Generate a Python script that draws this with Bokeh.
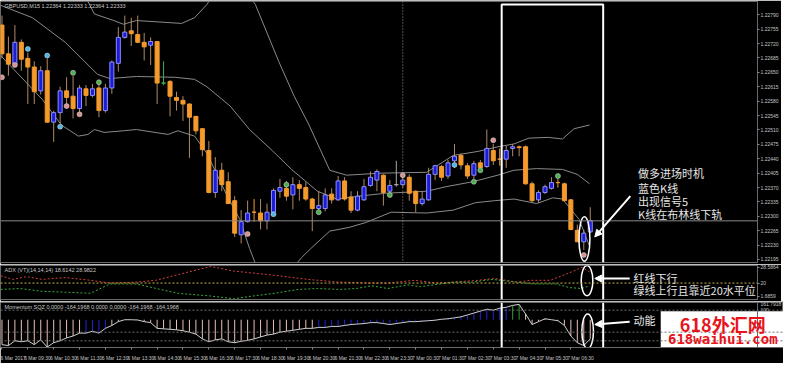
from bokeh.plotting import figure
from bokeh.models import (Range1d, LinearAxis, FixedTicker, Label, Arrow, NormalHead,
                          Span, PrintfTickFormatter)
from bokeh.layouts import column
from bokeh.embed import file_html
from bokeh.resources import INLINE

# ---------------- data (GBPUSD M15) ----------------
opens = [1.22765,1.22695,1.22670,1.22723,1.22684,1.22663,1.22605,1.22654,1.22529,1.22552,
         1.22605,1.22592,1.22562,1.22610,1.22594,1.22612,1.22557,1.22612,1.22672,1.22735,
         1.22751,1.22742,1.22723,1.22716,1.22725,1.22624,1.22628,1.22589,1.22582,1.22573,
         1.22543,1.22513,1.22460,1.22358,1.22412,1.22384,1.22338,1.22255,1.22287,1.22310,
         1.22308,1.22289,1.22310,1.22361,1.22368,1.22352,1.22377,1.22370,1.22342,1.22319,
         1.22319,1.22354,1.22340,1.22386,1.22347,1.22315,1.22340,1.22375,1.22388,1.22400,
         1.22361,1.22377,1.22377,1.22395,1.22361,1.22331,1.22340,1.22402,1.22421,1.22398,
         1.22435,1.22448,1.22423,1.22400,1.22430,1.22421,1.22460,1.22439,1.22439,1.22465,
         1.22469,1.22469,1.22379,1.22340,1.22358,1.22368,1.22382,1.22379,1.22340,1.22266,
         1.22238,1.22262]
highs = [1.22788,1.22737,1.22765,1.22730,1.22698,1.22677,1.22665,1.22684,1.22557,1.22615,
         1.22638,1.22642,1.22619,1.22619,1.22622,1.22622,1.22622,1.22679,1.22760,1.22788,
         1.22783,1.22788,1.22746,1.22735,1.22725,1.22677,1.22631,1.22603,1.22592,1.22575,
         1.22543,1.22515,1.22483,1.22444,1.22430,1.22407,1.22349,1.22315,1.22338,1.22342,
         1.22342,1.22331,1.22368,1.22391,1.22386,1.22395,1.22388,1.22384,1.22345,1.22361,
         1.22368,1.22368,1.22398,1.22395,1.22361,1.22361,1.22391,1.22409,1.22414,1.22402,
         1.22388,1.22435,1.22395,1.22402,1.22363,1.22361,1.22418,1.22425,1.22425,1.22437,
         1.22476,1.22453,1.22430,1.22435,1.22437,1.22511,1.22476,1.22465,1.22472,1.22476,
         1.22472,1.22472,1.22384,1.22363,1.22377,1.22395,1.22391,1.22382,1.22342,1.22280,
         1.22268,1.22322]
lows = [1.22684,1.22642,1.22668,1.22654,1.22573,1.22573,1.22596,1.22527,1.22481,1.22527,
        1.22562,1.22538,1.22550,1.22568,1.22589,1.22541,1.22552,1.22598,1.22652,1.22732,
        1.22714,1.22721,1.22679,1.22668,1.22573,1.22619,1.22543,1.22557,1.22532,1.22442,
        1.22499,1.22446,1.22356,1.22345,1.22361,1.22331,1.22250,1.22234,1.22285,1.22287,
        1.22268,1.22268,1.22308,1.22345,1.22338,1.22317,1.22338,1.22338,1.22264,1.22315,
        1.22312,1.22331,1.22338,1.22338,1.22308,1.22312,1.22338,1.22372,1.22361,1.22326,
        1.22345,1.22372,1.22370,1.22338,1.22310,1.22326,1.22338,1.22388,1.22386,1.22391,
        1.22418,1.22414,1.22391,1.22391,1.22416,1.22418,1.22425,1.22423,1.22418,1.22446,
        1.22446,1.22377,1.22333,1.22333,1.22354,1.22365,1.22370,1.22335,1.22266,1.22238,
        1.22218,1.22259]
closes = [1.22695,1.22670,1.22723,1.22682,1.22663,1.22603,1.22654,1.22529,1.22552,1.22605,
          1.22589,1.22562,1.22612,1.22594,1.22610,1.22557,1.22612,1.22675,1.22735,1.22748,
          1.22744,1.22723,1.22712,1.22725,1.22624,1.22624,1.22592,1.22582,1.22573,1.22541,
          1.22508,1.22462,1.22358,1.22412,1.22377,1.22331,1.22259,1.22287,1.22308,1.22310,
          1.22289,1.22310,1.22363,1.22370,1.22349,1.22377,1.22368,1.22342,1.22319,1.22326,
          1.22352,1.22340,1.22386,1.22342,1.22315,1.22349,1.22372,1.22395,1.22409,1.22358,
          1.22375,1.22377,1.22388,1.22356,1.22331,1.22342,1.22402,1.22423,1.22395,1.22430,
          1.22446,1.22425,1.22398,1.22428,1.22418,1.22465,1.22435,1.22439,1.22460,1.22469,
          1.22467,1.22379,1.22338,1.22358,1.22372,1.22382,1.22382,1.22338,1.22268,1.22238,
          1.22259,1.22289]
doji_colors = {25: "#3cb44b", 61: "#a8a8a8"}

# Bollinger bands (bar index, price)
upper_x = [11.8,14.3,17.3,18.8,20.8,27.8,29.8,31.7,33.5,37.3,39.2,42.8,45.2,47.5,50.7,
           53.3,58.7,65.7,69.8,73.7,76.7,79.2,81.5,84.5,86.7,88.5,90.9]
upper_p = [1.22868,1.22792,1.22776,1.22767,1.22776,1.22769,1.22783,1.22815,1.22857,1.22857,
           1.22815,1.22677,1.22592,1.22522,1.22412,1.22400,1.22405,1.22407,1.22448,1.22458,
           1.22469,1.22476,1.22490,1.22492,1.22488,1.22513,1.22522]
mid_x = [-0.2,4.7,9.8,14.8,16.7,20.8,26.8,29.8,31.7,35.3,38.3,41.8,44.8,48.8,51.8,55.2,
         59.3,65.7,68.7,72.8,76.7,79.2,82.7,86.7,89.0,90.9]
mid_p = [1.22813,1.22783,1.22723,1.22645,1.22635,1.22640,1.22638,1.22633,1.22615,1.22568,
         1.22511,1.22460,1.22414,1.22361,1.22342,1.22349,1.22356,1.22361,1.22372,1.22384,
         1.22400,1.22412,1.22416,1.22414,1.22402,1.22379]
low_x = [-0.2,6.2,9.2,11.8,13.3,14.3,15.8,18.8,20.8,25.7,27.2,29.8,31.7,34.7,36.8,38.3,
         40.0,43.3,46.3,47.8,50.7,53.7,56.3,60.2,65.7,69.8,73.2,76.2,79.2,82.7,85.2,86.7,
         89.3,90.9]
low_p = [1.22691,1.22585,1.22522,1.22495,1.22499,1.22511,1.22504,1.22508,1.22511,1.22499,
         1.22508,1.22495,1.22453,1.22354,1.22292,1.22222,1.22153,1.22142,1.22199,1.22222,
         1.22264,1.22273,1.22285,1.22310,1.22308,1.22315,1.22333,1.22338,1.22342,1.22331,
         1.22345,1.22342,1.22292,1.22227]

# signal markers (bar index, price, kind p=pink c=cyan g=green)
sig_idx = [0,2,4,7,9,10,11,12,15,38,42,44,49,60,62,70,73,74,76,86,90]
sig_price = [1.22638,1.22668,1.22707,1.22691,1.22518,1.22568,1.22649,1.22548,1.22626,1.22257,
             1.22305,1.22377,1.22310,1.22352,1.22400,1.22425,1.22384,1.22412,1.22485,1.22398,
             1.22206]
sig_kind = "ppcccpgpgpcgggpcggpgp"

# ADX (VT) lines
red_x = [-0.2,1.7,3.8,6.2,9.8,13.7,16.7,20.8,23.8,27.8,32.3,35.8,39.8,42.8,47.3,52.2,57.2,
         59.7,63.8,67.2,69.8,73.7,76.2,79.7,81.8,84.8,87.8,89.7,90.9]
red_v = [24.0,22.0,23.5,22.0,23.0,21.5,20.0,20.5,21.5,25.1,29.1,26.6,25.1,24.0,22.0,20.5,
         20.0,20.0,21.5,20.0,20.5,21.5,22.5,20.5,21.5,21.5,25.6,28.6,26.1]
green_x = [-0.2,2.8,6.2,9.8,13.7,16.7,18.8,20.8,23.3,27.2,32.3,35.8,38.8,42.2,45.8,48.8,
           52.2,54.8,57.2,59.7,62.7,64.7,69.8,72.8,75.8,79.7,82.2,85.7,87.8,89.7,90.9]
green_v = [16.5,17.0,15.5,15.0,14.4,19.5,19.5,19.5,17.5,14.4,12.9,11.4,12.9,14.4,16.5,17.0,
           16.5,17.0,18.5,17.0,19.0,18.0,20.5,20.5,22.0,20.5,19.5,19.5,17.5,17.0,18.5]

# Momentum SQZ histogram
mom = [-260,-270,-220,-230,-220,-260,-210,-285,-240,-220,
       -190,-170,-140,-140,-120,-140,-90,-60,-20,0,
       0,-3,-20,-30,-90,-95,-100,-105,-115,-130,
       -150,-200,-230,-210,-200,-230,-240,-225,-215,-200,
       -180,-160,-150,-130,-120,-110,-100,-90,-90,-80,
       -80,-70,-70,-60,-50,-45,-40,-30,-30,-40,
       -50,-40,-30,-20,-20,-15,-10,-5,5,10,
       20,30,50,70,90,110,100,120,130,150,
       160,60,-50,-20,10,0,-10,-60,-170,-240,
       -270,-200]
mom_state = ("ppppppppppppp" "bbbb" "pppppppppppppppppppppppppppppppp"
             "bbbbbbbbbbbbbbbbbbbbbbbbbbbbbb" "gg" "ppppppppppp")
mom_levels = [100, -130, -220]
mom_axis_labels = ["161.7918", "100"]
mom_axis_values = [161.7918, 100]

price_ticks = [1.22790,1.22755,1.22720,1.22685,1.22650,1.22615,1.22580,1.22545,1.22510,
               1.22475,1.22440,1.22405,1.22370,1.22335,1.22300,1.22265,1.22230,1.22195]
time_labels = ["6 Mar 2017","6 Mar 09:30","6 Mar 10:30","6 Mar 11:30","6 Mar 12:30",
               "6 Mar 13:30","6 Mar 14:30","6 Mar 15:30","6 Mar 16:30","6 Mar 17:30",
               "6 Mar 18:30","6 Mar 19:30","6 Mar 20:30","6 Mar 21:30","6 Mar 22:30",
               "6 Mar 23:30","7 Mar 00:30","7 Mar 01:30","7 Mar 02:30","7 Mar 03:30",
               "7 Mar 04:30","7 Mar 05:30","7 Mar 06:30"]

# ---------------- styling ----------------
ORANGE = "#f59a2c"
BLUE = "#1c1cd6"
BLUE_EDGE = "#8f8fff"
WICK = "#b08a64"
BAND = "#8a8a8a"
AXC = "#c4c4c4"
FRAME = "#6a6a6a"
SMALL = "Liberation Sans"
CJK = "Noto Sans CJK SC"

n = len(opens)
idx = list(range(n))
X0, X1 = -0.225, 116.87
FW = 757
TOTAL_W = 783
PX_PER_BAR = FW / (X1 - X0)
XR = Range1d(X0, X1)
XR_FULL = Range1d(X0, X0 + TOTAL_W / PX_PER_BAR)


def panel(h, y0, y1, top, bottom, fw=FW, xr=XR):
    f = figure(frame_width=fw, frame_height=h, x_range=xr, y_range=Range1d(y0, y1),
               x_axis_location=None, y_axis_location=None, output_backend="svg",
               toolbar_location=None, min_border=0, min_border_top=top,
               min_border_bottom=bottom, min_border_left=0, min_border_right=0,
               background_fill_color="black", border_fill_color="black",
               outline_line_color=FRAME, outline_line_width=1)
    f.grid.visible = False
    return f


def right_axis(f, ticks, fmt=None, overrides=None):
    ax = LinearAxis(ticker=FixedTicker(ticks=ticks), axis_line_color=FRAME,
                    major_tick_line_color="#8a8a8a", major_tick_out=2, major_tick_in=0,
                    minor_tick_line_color=None, major_label_text_color=AXC,
                    major_label_text_font_size="5px", major_label_text_font=SMALL,
                    major_label_standoff=1)
    if fmt:
        ax.formatter = PrintfTickFormatter(format=fmt)
    if overrides:
        ax.major_label_overrides = overrides
    f.add_layout(ax, "right")


def note(f, x, y, text, size="11px", font=CJK, color="#e6e6e6", baseline="middle",
         align="left", style="normal"):
    f.add_layout(Label(x=x, y=y, text=text, text_font=font, text_font_size=size,
                       text_color=color, text_baseline=baseline, text_align=align,
                       text_font_style=style))


# ---------------- main price panel ----------------
PMIN, PMAX = 1.221877, 1.228223
pm = panel(261, PMIN, PMAX, 1, 2)
right_axis(pm, price_ticks, fmt="%.5f")

for xs, ps in ((upper_x, upper_p), (mid_x, mid_p), (low_x, low_p)):
    pm.line(xs, ps, line_color=BAND, line_width=1)

pm.add_layout(Span(location=closes[-1], dimension="width", line_color="#8a8a8a", line_width=1))
pm.add_layout(Span(location=62, dimension="height", line_color="#9a9a9a", line_width=1,
                   line_dash="1 2"))

body_top = [max(o, c) for o, c in zip(opens, closes)]
body_bot = [min(o, c) for o, c in zip(opens, closes)]
fills, edges, wicks = [], [], []
for i in idx:
    if closes[i] > opens[i]:
        fills.append(BLUE); edges.append(BLUE_EDGE); wicks.append(WICK)
    elif closes[i] < opens[i]:
        fills.append(ORANGE); edges.append(ORANGE); wicks.append(WICK)
    else:
        c = doji_colors.get(i, ORANGE)
        fills.append(c); edges.append(c); wicks.append(c)

pm.segment(x0=idx, y0=highs, x1=idx, y1=lows, line_color=wicks, line_width=1)
pm.vbar(x=idx, width=0.62, top=body_top, bottom=body_bot, fill_color=fills,
        line_color=edges, line_width=1)

kind_fill = {"p": "#d9918f", "c": "#4fb6e3", "g": "#4cae50"}
pm.scatter(sig_idx, sig_price, size=5, marker="circle",
           fill_color=[kind_fill[k] for k in sig_kind], line_color="#e0e0e0", line_width=0.5)

# highlight box, ellipse, arrow, notes
BOX_L, BOX_R = 77.3, 93.0
pm.line([BOX_L, BOX_L, BOX_R, BOX_R], [PMIN, 1.22815, 1.22815, PMIN],
        line_color="white", line_width=2)
pm.ellipse(x=[90.1], y=[1.22245], width=1.7, height=0.00108, fill_color=None,
           line_color="white", line_width=1.5)
pm.add_layout(Arrow(end=NormalHead(size=7, fill_color="white", line_color="white"),
                    x_start=97.2, y_start=1.22349, x_end=91.7, y_end=1.22250,
                    line_color="white", line_width=2))
for t, yv in zip(["做多进场时机", "蓝色K线", "出现信号5", "K线在布林线下轨"],
                 [1.22405, 1.22370, 1.22338, 1.22306]):
    note(pm, 98.4, yv, t)

note(pm, 0.4, 1.22819, "GBPUSD,M15  1.22364 1.22333 1.22364 1.22333",
     size="5.5px", font=SMALL, color="#c8c8c8", baseline="top")

# ---------------- ADX panel ----------------
pa = panel(34, 11.0, 29.6, 1, 2)
right_axis(pa, [12.9, 20, 28.5864], overrides={12.9: "1.6859", 20: "20", 28.5864: "28.5864"})
pa.add_layout(Span(location=20, dimension="width", line_color="#c8b44a", line_width=1,
                   line_dash="2 2"))
pa.line(red_x, red_v, line_color="#d04040", line_width=1, line_dash="2 2")
pa.line(green_x, green_v, line_color="#3daa3d", line_width=1, line_dash="2 2")
for xb in (BOX_L, BOX_R):
    pa.add_layout(Span(location=xb, dimension="height", line_color="white", line_width=2))
pa.ellipse(x=[90.5], y=[21.3], width=1.8, height=16.5, fill_color=None,
           line_color="white", line_width=1.5)
pa.add_layout(Arrow(end=NormalHead(size=7, fill_color="white", line_color="white"),
                    x_start=97.1, y_start=22.5, x_end=91.7, y_end=22.5,
                    line_color="white", line_width=2))
note(pa, 97.7, 22.5, "红线下行")
note(pa, 97.7, 16.0, "绿线上行且靠近20水平位")
note(pa, 0.4, 28.9, "ADX (VT)(14,14,14) 18.6142 28.9822", size="5.5px", font=SMALL,
     color="#c8c8c8", baseline="top")

# ---------------- Momentum panel (frame spans full width; watermark sits over its right) ----
pmo = panel(45, -290, 180, 1, 0, fw=TOTAL_W, xr=XR_FULL)
major = [4 * k + 1.5 for k in range(len(time_labels))]
minor = [4 * k for k in range(len(time_labels))]
tax = LinearAxis(ticker=FixedTicker(ticks=major, minor_ticks=minor),
                 major_label_overrides={m: t for m, t in zip(major, time_labels)},
                 axis_line_color=FRAME, major_tick_line_color=None,
                 minor_tick_line_color="#8a8a8a", minor_tick_out=2, minor_tick_in=0,
                 major_label_text_color=AXC, major_label_text_font_size="5px",
                 major_label_text_font=SMALL, major_label_standoff=1)
pmo.add_layout(tax, "below")

for lv in mom_levels:
    pmo.add_layout(Span(location=lv, dimension="width", line_color="#707070", line_width=1,
                        line_dash="2 2"))
pmo.add_layout(Span(location=X1, dimension="height", line_color=FRAME, line_width=1))
state_col = {"p": "#e9c2b8", "b": "#2424d8", "g": "#3a9a3a"}
pmo.segment(x0=idx, y0=[0] * n, x1=idx, y1=mom,
            line_color=[state_col[s] for s in mom_state], line_width=1)
pmo.line(idx, mom, line_color="#cfcfcf", line_width=1)
for xb in (BOX_L, BOX_R):
    pmo.add_layout(Span(location=xb, dimension="height", line_color="white", line_width=2))
pmo.ellipse(x=[90.6], y=[-120], width=1.8, height=360, fill_color=None,
            line_color="white", line_width=1.5)
pmo.add_layout(Arrow(end=NormalHead(size=7, fill_color="white", line_color="white"),
                     x_start=97.1, y_start=-20, x_end=91.7, y_end=-50,
                     line_color="white", line_width=2))
note(pmo, 97.7, 0, "动能")
note(pmo, 0.4, 160, "Momentum SQZ 0.0000 -164.1968 0.0000 0.0000 -164.1968 -164.1968",
     size="5.5px", font=SMALL, color="#c8c8c8", baseline="top")
for lab, v in zip(mom_axis_labels, mom_axis_values):
    note(pmo, X1 + 0.45, v, lab, size="5px", font=SMALL, color=AXC)

# watermark
pmo.quad(left=[101.9], right=[130], top=[88], bottom=[-400], fill_color="white",
         line_color=None)
note(pmo, 111.5, -40, "618外汇网", size="18px", color="#e8141c", align="center",
     style="bold")
note(pmo, 111.5, -205, "618waihui.com", size="14px", font="DejaVu Sans Mono",
     color="#e8141c", align="center", style="bold")

p = column(pm, pa, pmo, spacing=0)
open("out.html", "w").write(file_html(p, INLINE))
